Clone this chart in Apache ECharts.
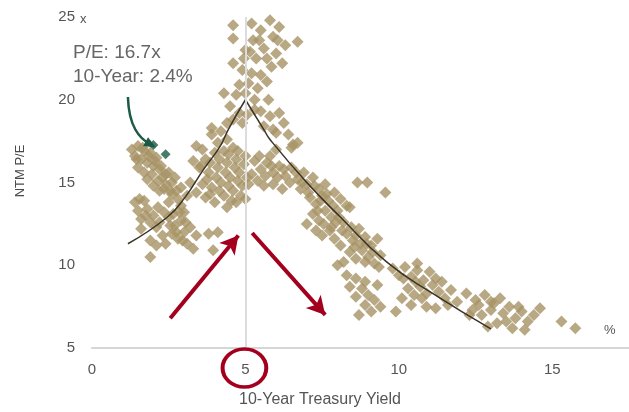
<!DOCTYPE html>
<html>
<head>
<meta charset="utf-8">
<script src="https://cdn.jsdelivr.net/npm/echarts@6/dist/echarts.min.js"></script>
<style>
  html, body { margin: 0; padding: 0; background: #fff; }
  #main { width: 629px; height: 412px; }
</style>
</head>
<body>
<div id="main"></div>
<script>
// 10-year yield (%) vs NTM P/E (x)
const leftCluster = [
  [1.3,17.0],[1.4,16.6],[1.5,17.2],[1.6,16.4],[1.7,16.9],[1.8,16.2],[1.9,16.8],[2.0,16.0],[2.1,16.5],
  [1.5,15.9],[1.7,15.6],[2.2,15.8],[2.3,15.3],[2.5,15.6],[2.6,15.0],
  [1.8,15.2],[2.0,14.8],[2.2,14.5],[2.4,14.9],[2.6,14.3],[2.8,14.0],[2.9,13.6],[3.0,13.2],[2.5,13.8],
  [2.7,15.3],[2.9,14.7],[3.1,14.2],
  [1.4,13.8],[1.5,13.3],[1.6,12.8],[1.7,13.9],[1.8,13.4],[1.9,12.6],[2.0,13.0],[2.1,12.3],[1.6,12.2],
  [2.5,12.9],[2.7,12.4],[2.9,12.7],[3.0,12.0],[3.2,12.3],[2.8,11.6],[3.1,11.3],[3.3,11.0],[3.4,11.8],[2.6,11.9],
  [1.9,11.5],[2.1,11.2],[2.3,11.8],[2.4,11.3],[1.9,10.5],[3.8,11.9],[4.1,12.0],[3.95,10.9],
  [1.45,16.4],[1.65,17.1],[1.85,16.6],[2.05,16.3],[2.25,16.0],[2.4,15.5],[1.95,15.5],[2.15,15.1],
  [2.35,14.6],[2.55,14.5],[2.75,14.5],[1.55,14.0],[1.75,13.0],[2.15,13.5],[2.35,13.2],[2.65,13.1],
  [2.85,13.2],[3.05,12.6],[2.55,12.4],[2.75,12.0],[2.95,11.5],[2.2,12.6]
];
const middleCluster = [
  [3.4,17.2],[3.6,17.0],[3.9,17.9],[4.2,18.1],[4.4,17.6],[3.7,16.4],[4.0,16.8],[4.3,16.9],[4.6,17.1],
  [3.5,15.9],[3.8,15.6],[4.1,15.9],[4.4,16.2],[4.7,16.4],[5.0,16.6],[3.6,14.9],[3.9,14.7],[4.2,15.0],
  [4.5,15.3],[4.8,15.6],[3.7,14.1],[4.0,13.8],[4.3,14.2],[4.6,14.5],[4.9,14.8],[4.4,13.5],[4.7,13.8],
  [5.0,14.0],[5.1,14.9],[5.2,15.5],[3.3,16.3],[3.2,15.0],[3.4,14.4],
  [3.55,16.0],[3.85,16.2],[4.15,16.4],[4.45,16.7],[4.75,16.9],[3.75,15.2],[4.05,15.3],[4.35,15.6],
  [4.65,15.9],[4.95,16.1],[3.85,14.3],[4.15,14.5],[4.45,14.8],[4.75,15.1],[5.05,15.3],[4.55,13.9],[4.85,14.2]
];
const peakCluster = [
  [4.6,24.5],[4.6,23.7],[5.2,24.6],[5.25,23.6],[5.15,22.9],[5.8,24.8],[6.1,24.4],[5.9,23.8],[6.3,23.3],
  [6.0,22.8],[5.7,22.5],[6.2,22.2],[6.7,23.5],[5.5,24.2],[5.6,23.1],
  [4.6,22.2],[4.9,21.8],[5.2,21.6],[5.5,21.5],[4.8,20.9],[5.1,21.0],[5.4,20.7],[5.7,21.1],[4.7,20.3],
  [5.0,20.4],[5.3,20.0],[4.3,20.4],[4.5,19.6],[4.8,19.2],[4.6,18.8],[4.9,18.6],
  [5.5,19.3],[5.8,19.0],[6.1,19.2],[5.6,18.4],[5.9,18.2],[6.25,18.6],[6.4,17.9],[6.7,17.4],[6.5,17.1],
  [3.9,18.3],[4.1,17.4],[4.4,18.6],
  [5.0,23.0],[5.35,22.5],[5.85,22.0],[6.05,23.6],[5.45,23.6],[4.95,22.5],[5.3,19.4],[5.05,19.1],[5.75,20.0],[6.0,18.0]
];
const rightCluster = [
  [5.3,16.3],[5.5,15.8],[5.7,16.2],[5.9,15.6],[6.1,16.0],[6.3,15.4],[6.5,15.9],[6.7,15.2],[6.9,15.6],
  [5.4,15.1],[5.6,14.8],[5.9,14.9],[6.2,14.6],[6.55,17.3],[5.8,16.6],[6.0,17.0],
  [6.8,14.6],[7.0,14.9],[7.2,15.3],[7.4,14.6],[7.6,14.9],[7.1,14.1],[7.3,13.7],[7.5,14.2],[7.7,13.9],
  [7.9,14.4],[8.1,14.0],[7.2,13.1],[7.4,12.7],[7.6,13.3],[7.8,12.9],[8.0,13.3],[8.2,12.6],[7.0,12.5],
  [7.3,12.1],[7.5,11.8],[7.8,12.3],[8.3,13.6],[8.65,15.0],[8.97,15.0],[9.56,14.4],[8.4,13.5],
  [7.9,11.6],[8.1,11.2],[8.3,11.9],[8.5,11.5],[8.7,12.2],[8.9,11.7],[9.1,11.2],[8.4,10.8],[8.6,10.4],
  [8.8,10.9],[9.0,10.5],[9.2,10.1],[9.4,10.6],[8.2,10.2],[8.0,10.0],[9.3,11.6],
  [8.3,9.4],[8.4,8.7],[8.6,8.1],[8.8,8.6],[8.9,7.6],[9.0,8.2],[9.2,7.9],[9.1,7.2],[9.3,8.8],[8.7,7.0],
  [9.4,7.5],[8.6,9.2],[8.9,9.0],
  [5.45,16.6],[5.65,15.4],[5.85,16.0],[6.05,15.3],[6.25,15.8],[6.45,15.0],[6.65,15.6],[6.85,15.0],
  [7.05,14.4],[7.25,14.8],[7.45,13.9],[7.65,14.3],[7.85,13.6],[8.05,12.9],[7.35,13.3],[7.55,12.5],
  [7.75,12.1],[7.95,12.6],[8.15,12.1],[8.45,12.3],[8.6,11.8],[8.75,11.3],[8.55,11.1],[8.95,11.3],
  [9.15,10.8],[8.9,10.2],[9.35,9.9]
];
const tailCluster = [
  [9.8,9.8],[10.0,9.4],[10.2,9.9],[10.4,9.3],[10.6,9.7],[10.8,9.1],[10.3,8.6],[10.5,8.2],[10.7,8.7],
  [10.9,8.3],[11.1,8.8],[11.3,8.4],[10.1,8.0],[10.4,7.6],[10.9,7.5],[11.5,8.0],[11.7,8.5],[11.9,7.8],
  [11.2,7.4],[10.6,10.1],[11.0,9.6],[9.9,7.2],[11.4,9.0],
  [12.2,8.3],[12.5,7.9],[12.8,8.2],[13.1,7.7],[13.3,8.0],[12.4,7.3],[12.7,7.0],[13.0,7.3],[13.4,7.1],
  [13.6,7.5],[13.8,6.8],[14.0,7.2],[14.2,6.6],[14.4,7.0],[13.2,6.5],[12.9,6.3],[13.7,6.2],[14.1,6.1],
  [14.6,7.4],[15.3,6.6],[15.75,6.2],
  [10.15,9.2],[10.55,9.0],[10.75,8.0],[11.2,9.2],[11.6,7.6],[12.6,7.6],[13.0,7.8],[13.5,6.6],[13.9,7.5],[12.3,7.0]
];
const currentPoints = [[2.0,17.27],[2.4,16.7]];
const risingTrend = [[1.17,11.3],[2.45,12.9],[3.03,14.1],[3.62,15.75],[4.18,17.2],[4.44,18.2],[5.0,20.0]];
const fallingTrend = [[5.0,20.0],[5.6,18.2],[5.8,17.6],[7.0,15.0],[8.1,12.9],[9.6,10.2],[11.1,8.3],[13.0,6.15]];
const yTicks = [5, 10, 15, 20, 25];
const xTicks = [0, 5, 10, 15];

const allPoints = [].concat(leftCluster, middleCluster, peakCluster, rightCluster, tailCluster);

const myChart = echarts.init(document.getElementById('main'), null, { renderer: 'canvas' });
const FONT = 'Liberation Sans, Arial, sans-serif';
const RED = '#a3001e';
const GREEN = '#1d5a46';

const option = {
  animation: false,
  grid: { left: 92, right: 0, top: 17, bottom: 64 },
  xAxis: {
    type: 'value', min: 0, max: 17.5, interval: 5,
    axisLine: { show: true, lineStyle: { color: '#d6d6d6', width: 2 } },
    axisTick: { show: false },
    splitLine: { show: false },
    axisLabel: {
      color: '#555', fontSize: 15, fontFamily: FONT, margin: 14, showMaxLabel: false,
      formatter: v => xTicks.indexOf(v) >= 0 ? String(v) : ''
    }
  },
  yAxis: {
    type: 'value', min: 5, max: 25, interval: 5,
    axisLine: { show: false },
    axisTick: { show: false },
    splitLine: { show: false },
    axisLabel: {
      color: '#555', fontSize: 15, fontFamily: FONT, margin: 17,
      formatter: v => yTicks.indexOf(v) >= 0 ? String(v) : ''
    }
  },
  series: [
    {
      name: 'history', type: 'scatter', symbol: 'diamond', symbolSize: 12,
      itemStyle: { color: '#a69465' },
      data: allPoints,
      markLine: {
        silent: true, symbol: 'none', label: { show: false },
        lineStyle: { color: '#dcdcdc', width: 2, type: 'solid' },
        data: [{ xAxis: 5 }]
      },
      z: 2
    },
    {
      name: 'current', type: 'scatter', symbol: 'diamond', symbolSize: 10,
      itemStyle: { color: GREEN },
      data: currentPoints,
      z: 4
    },
    {
      name: 'rising', type: 'line', smooth: true, symbol: 'none',
      lineStyle: { color: '#3b3326', width: 1.5 },
      data: risingTrend, z: 3
    },
    {
      name: 'falling', type: 'line', smooth: true, symbol: 'none',
      lineStyle: { color: '#3b3326', width: 1.5 },
      data: fallingTrend, z: 3
    },
    {
      name: 'arrows', type: 'scatter', data: [], z: 5,
      markLine: {
        silent: true, label: { show: false },
        symbol: ['none', 'arrow'], symbolSize: [15, 18],
        lineStyle: { color: RED, width: 4, type: 'solid' },
        data: [
          [{ coord: [2.55, 6.8] }, { coord: [4.77, 11.8] }],
          [{ coord: [5.22, 11.95] }, { coord: [7.6, 7.0] }]
        ]
      }
    }
  ]
};
myChart.setOption(option);

const px5 = myChart.convertToPixel({ xAxisIndex: 0 }, 5);
const pxAxis = myChart.convertToPixel({ yAxisIndex: 0 }, 5);
const pxTop = myChart.convertToPixel({ yAxisIndex: 0 }, 25);
// curved pointer to the current reading
const a0 = myChart.convertToPixel({ gridIndex: 0 }, [1.17, 20.17]);
const a1 = myChart.convertToPixel({ gridIndex: 0 }, [2.0, 17.2]);
const cp1 = [a0[0] + 1, a0[1] + 30];
const cp2 = [a1[0] - 14, a1[1] - 8];
const ang = Math.atan2(a1[1] - cp2[1], a1[0] - cp2[0]);
const head = (l, w) => [
  [a1[0] + 3 * Math.cos(ang), a1[1] + 3 * Math.sin(ang)],
  [a1[0] - l * Math.cos(ang) + w * Math.sin(ang), a1[1] - l * Math.sin(ang) - w * Math.cos(ang)],
  [a1[0] - l * Math.cos(ang) - w * Math.sin(ang), a1[1] - l * Math.sin(ang) + w * Math.cos(ang)]
];
myChart.setOption({
  graphic: [
    { type: 'text', left: 73, top: 43, style: { text: 'P/E: 16.7x', fontSize: 19, fontFamily: FONT, fill: '#666' } },
    { type: 'text', left: 73, top: 67, style: { text: '10-Year: 2.4%', fontSize: 19, fontFamily: FONT, fill: '#666' } },
    { type: 'text', x: 80, y: pxTop - 4, style: { text: 'x', fontSize: 13, fontFamily: FONT, fill: '#555' } },
    { type: 'text', x: 604, y: pxAxis - 24, style: { text: '%', fontSize: 13, fontFamily: FONT, fill: '#555' } },
    { type: 'text', x: 320, y: 400, style: { text: '10-Year Treasury Yield', fontSize: 16, fontFamily: FONT, fill: '#555', align: 'center', verticalAlign: 'middle' } },
    { type: 'text', x: 20, y: 171, rotation: Math.PI / 2, style: { text: 'NTM P/E', fontSize: 13, fontFamily: FONT, fill: '#4a4a4a', align: 'center', verticalAlign: 'middle' } },
    { type: 'circle', x: px5 - 1, y: pxAxis + 20, scaleX: 1.15, shape: { r: 19 }, style: { fill: 'none', stroke: RED, lineWidth: 3.5 }, z: 10 },
    {
      type: 'bezierCurve', z: 10,
      shape: { x1: a0[0], y1: a0[1], cpx1: cp1[0], cpy1: cp1[1], cpx2: cp2[0], cpy2: cp2[1], x2: a1[0] - 4 * Math.cos(ang), y2: a1[1] - 4 * Math.sin(ang) },
      style: { stroke: GREEN, lineWidth: 2.5, fill: 'none' }
    },
    { type: 'polygon', z: 10, shape: { points: head(9, 5) }, style: { fill: GREEN } }
  ]
});
</script>
</body>
</html>
